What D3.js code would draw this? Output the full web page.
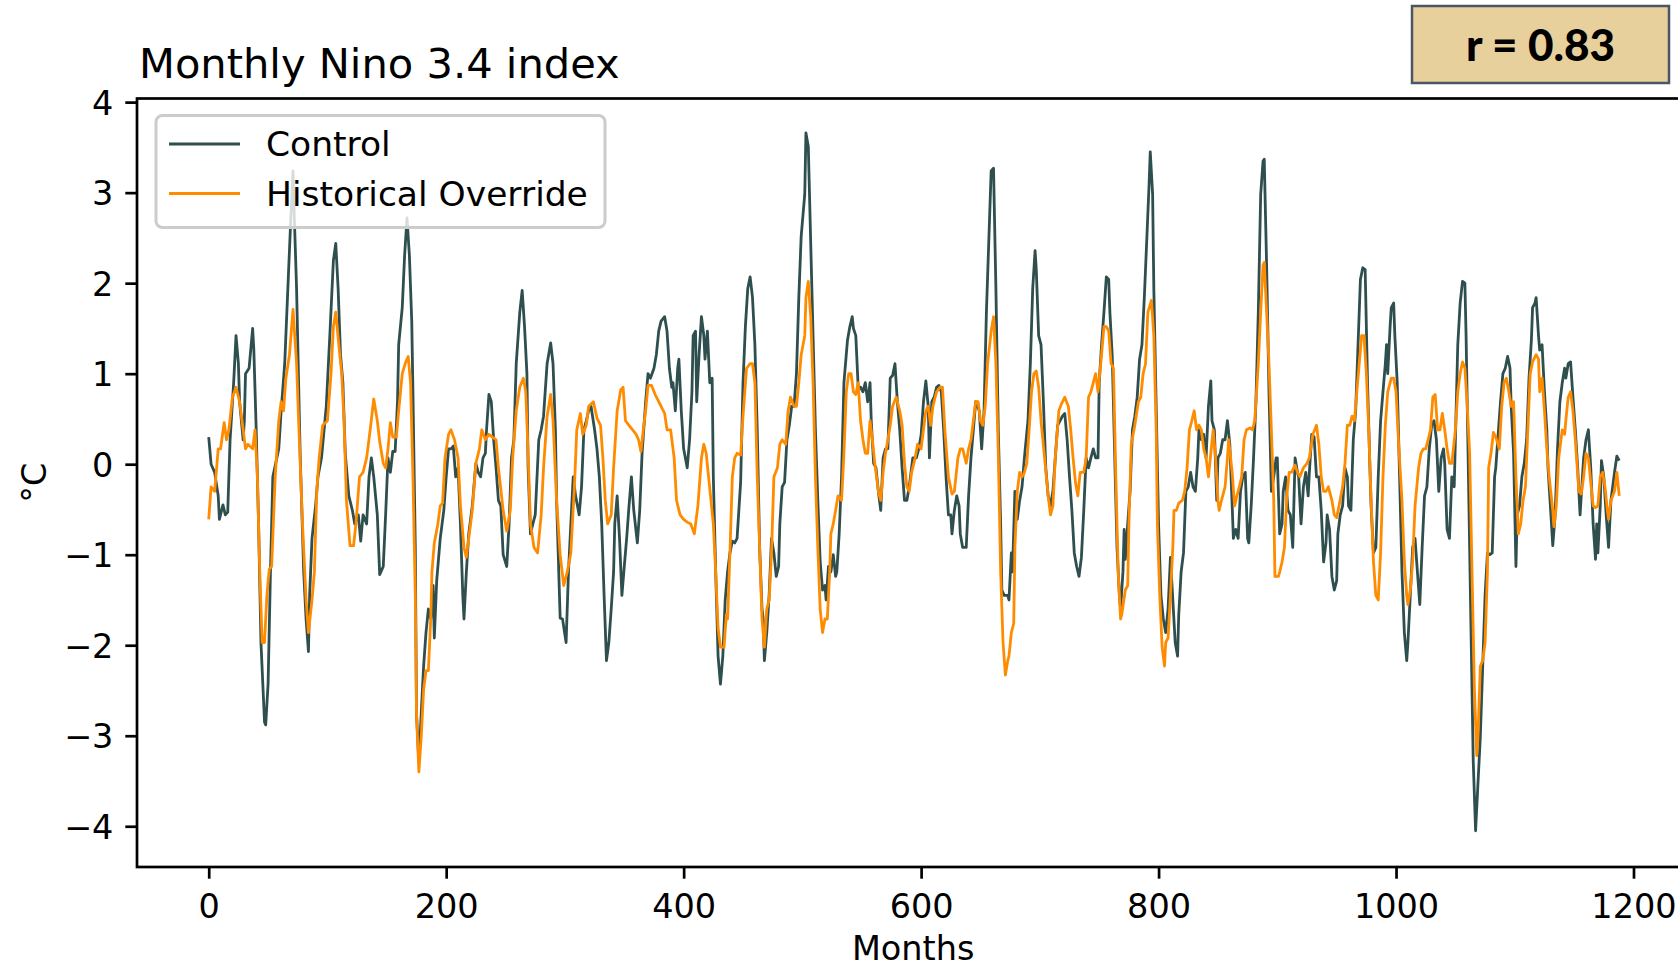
<!DOCTYPE html>
<html><head><meta charset="utf-8">
<script src="https://cdn.jsdelivr.net/npm/d3@7"></script>
<style>body{margin:0;background:#fff;} svg{display:block;}</style>
</head><body>
<svg id="chart" width="1678" height="970"></svg>
<script>
const title = "Monthly Nino 3.4 index";
const xLabel = "Months";
const yLabel = "°C";
const seriesNames = ["Control", "Historical Override"];
const seriesColors = ["#2f4f4f", "#ff8c00"];
const xTicks = [0, 200, 400, 600, 800, 1000, 1200];
const xTickLabels = ["0", "200", "400", "600", "800", "1000", "1200"];
const yTicks = [-4, -3, -2, -1, 0, 1, 2, 3, 4];
const yTickLabels = ["\u22124", "\u22123", "\u22122", "\u22121", "0", "1", "2", "3", "4"];
const corrLabel = "r = 0.83";

// [month, °C]
const control = [[0,0.30],[2,0.00],[5,-0.09],[8,-0.35],[9,-0.61],[12,-0.45],[14,-0.56],[16,-0.53],[18,0.27],[21,0.90],[23,1.42],[25,1.11],[26,0.69],[29,0.27],[30,0.48],[31,1.00],[34,1.06],[37,1.50],[38,1.26],[40,0.38],[42,-0.66],[44,-1.97],[47,-2.85],[48,-2.88],[50,-2.43],[52,-1.19],[54,-0.14],[59,0.17],[61,0.59],[64,1.11],[67,2.05],[69,2.67],[71,3.24],[72,2.77],[74,1.94],[77,0.12],[80,-1.19],[82,-1.71],[84,-2.07],[85,-1.45],[87,-0.82],[90,-0.46],[92,-0.14],[95,0.07],[99,0.64],[102,1.42],[105,2.25],[107,2.44],[109,1.94],[111,1.21],[113,0.90],[115,0.12],[118,-0.35],[121,-0.51],[123,-0.66],[126,-0.56],[128,-0.85],[130,-0.56],[133,-0.66],[135,-0.14],[137,0.07],[139,-0.14],[142,-0.56],[144,-1.22],
[147,-1.13],[149,-0.56],[151,0.07],[153,-0.09],[155,0.14],[157,0.14],[159,0.69],[160,1.32],[163,1.73],[165,2.31],[167,2.72],[169,2.31],[171,1.58],[172,0.80],[174,-0.92],[175,-2.75],[177,-3.30],[179,-2.75],[181,-2.23],[183,-1.86],[185,-1.60],[187,-1.71],[189,-1.34],[190,-1.92],[192,-1.29],[195,-0.82],[198,-0.51],[200,-0.14],[202,0.17],[204,0.17],[206,0.20],[208,-0.14],[210,-0.04],[212,-0.66],[214,-1.45],[215,-1.71],[217,-1.19],[219,-0.77],[222,-0.46],[225,0.01],[227,-0.09],[229,-0.14],[231,0.07],[233,0.12],[234,0.38],[236,0.77],[238,0.69],[240,0.27],[242,-0.04],[244,-0.40],[246,-0.46],[248,-1.00],[251,-1.13],[253,-0.66],[255,0.07],[257,0.27],[259,1.11],[262,1.68],[264,1.92],[266,1.52],[268,1.00],[269,-0.04],[271,-0.77],[273,-0.66],[275,-0.56],[278,0.27],[280,0.38],[282,0.53],[285,1.11],[288,1.34],[290,1.11],[292,0.38],[293,-0.40],[296,-1.70],
[298,-1.71],[301,-1.97],[303,-1.19],[305,-0.66],[307,-0.14],[309,-0.35],[312,-0.56],[314,-0.25],[316,0.38],[318,0.48],[320,0.59],[322,0.64],[325,0.38],[327,0.17],[329,-0.14],[331,-0.66],[333,-1.45],[335,-2.17],[337,-1.97],[339,-1.60],[341,-1.19],[342,-0.66],[344,-0.35],[346,-0.82],[348,-1.45],[350,-1.13],[352,-0.82],[354,-0.46],[356,-0.14],[358,-0.51],[361,-0.87],[363,-0.51],[365,0.12],[368,0.69],[370,1.00],[372,0.95],[375,1.06],[377,1.21],[379,1.47],[381,1.58],[384,1.63],[386,1.47],[388,1.06],[390,0.85],[391,0.90],[393,0.59],[395,1.06],[396,1.16],[398,0.59],[400,0.17],[403,-0.04],[405,0.27],[407,0.80],[408,1.42],[410,1.47],[411,0.69],[413,1.21],[415,1.63],[417,1.42],[418,1.16],[420,1.47],[422,0.90],[424,0.95],[425,-0.14],[427,-1.19],[429,-2.12],[431,-2.43],[433,-2.12],[435,-1.50],[437,-1.19],[439,-0.98],[441,-0.85],[443,-0.87],[445,-0.82],[448,-0.20],
[450,0.90],[452,1.52],[454,1.94],[456,2.07],[458,1.84],[460,1.32],[462,0.38],[464,-0.92],[466,-1.60],[467,-1.71],[468,-2.17],[470,-1.86],[472,-1.45],[474,-0.82],[476,-0.98],[478,-1.24],[480,-1.13],[481,-0.66],[483,-0.25],[485,-0.20],[487,0.27],[489,0.43],[491,0.64],[493,0.64],[495,1.00],[497,1.84],[499,2.52],[502,2.98],[503,3.66],[505,3.51],[507,2.46],[509,1.42],[511,0.38],[513,-0.40],[515,-1.08],[517,-1.39],[519,-1.34],[520,-1.50],[522,-1.13],[524,-1.19],[526,-1.00],[528,-1.24],[529,-1.19],[531,-0.77],[533,-0.14],[535,0.90],[538,1.37],[540,1.52],[542,1.63],[543,1.50],[545,1.42],[547,0.85],[549,0.85],[551,0.80],[553,0.90],[555,0.69],[557,0.90],[558,0.48],[560,0.01],[562,-0.04],[564,-0.30],[566,-0.51],[568,0.07],[570,0.17],[572,0.17],[574,0.95],[576,0.98],[578,1.11],[580,0.69],[582,0.38],[584,-0.04],[586,-0.40],[588,-0.40],[590,-0.25],[593,0.07],[596,0.07],[598,0.17],[600,0.32],
[602,0.69],[604,0.92],[606,0.64],[607,0.07],[609,0.69],[611,0.74],[613,0.85],[615,0.87],[617,0.80],[619,0.38],[621,-0.14],[623,-0.56],[625,-0.56],[626,-0.77],[628,-0.51],[630,-0.35],[632,-0.46],[633,-0.77],[635,-0.92],[638,-0.92],[640,-0.35],[642,0.07],[644,0.38],[646,0.69],[649,0.59],[651,0.17],[653,0.59],[655,1.68],[657,2.46],[659,3.24],[661,3.27],[663,1.94],[665,0.38],[667,-0.66],[668,-1.39],[670,-1.45],[673,-1.45],[674,-1.50],[676,-0.98],[677,-1.19],[679,-0.30],[681,-0.61],[683,-0.40],[685,-0.25],[687,0.07],[690,0.48],[692,1.11],[694,1.94],[696,2.36],[697,2.15],[699,1.42],[701,1.32],[703,0.69],[705,-0.04],[707,-0.35],[709,-0.46],[711,-0.30],[713,0.07],[715,0.43],[717,0.48],[719,0.53],[721,0.56],[723,0.27],[725,-0.14],[727,-0.51],[729,-0.98],[731,-1.13],[733,-1.24],[735,-1.03],[737,-0.51],[739,0.07],[741,-0.04],[743,0.07],[745,0.17],[747,0.07],[749,0.07],[750,0.90],[752,1.32],
[754,1.68],[756,2.07],[758,2.04],[759,1.68],[761,1.19],[763,0.12],[765,-0.92],[767,-1.45],[768,-1.60],[770,-1.19],[771,-0.72],[772,-1.05],[774,-0.66],[776,-0.30],[778,0.38],[780,0.53],[782,0.74],[784,1.16],[786,1.32],[788,1.84],[790,2.46],[792,3.09],[793,3.45],[795,2.98],[796,1.94],[798,0.64],[800,-0.66],[802,-1.45],[804,-1.71],[806,-1.86],[808,-1.60],[810,-1.03],[812,-1.50],[814,-1.97],[816,-2.12],[817,-1.66],[819,-1.19],[821,-0.98],[823,-0.30],[825,-0.25],[827,-0.09],[829,-0.25],[831,-0.30],[833,0.07],[834,0.38],[836,0.27],[838,0.33],[840,0.07],[842,0.64],[844,0.92],[845,0.48],[847,0.38],[849,-0.40],[850,0.07],[852,0.12],[854,0.27],[856,0.27],[858,0.48],[860,0.22],[862,-0.46],[863,-0.82],[865,-0.72],[867,-0.82],[869,-0.30],[871,-0.14],[873,-0.09],[875,-0.82],[876,-0.87],[878,-0.46],[880,0.07],[882,0.69],[884,1.68],[886,2.98],[888,3.35],[889,3.37],[891,2.20],[893,0.80],[895,-0.30],[897,-0.14],[899,0.07],[900,0.07],[902,-0.77],[904,-0.66],
[905,-0.30],[907,-0.14],[909,-0.51],[911,-0.56],[913,-0.92],[915,0.07],[917,-0.09],[918,-0.14],[920,-0.66],[922,-0.25],[924,-0.09],[926,-0.35],[927,-0.09],[929,0.33],[931,0.30],[933,-0.14],[935,-0.14],[937,-0.51],[939,-1.08],[941,-0.87],[942,-0.56],[944,-0.72],[946,-1.24],[948,-1.39],[950,-1.29],[951,-0.77],[953,-0.56],[955,-0.46],[957,-0.04],[959,-0.14],[960,-0.46],[962,-0.51],[964,0.27],[966,0.59],[968,1.32],[970,2.04],[972,2.17],[974,2.15],[976,0.90],[978,-0.04],[979,-0.46],[981,-0.98],[983,-0.92],[985,-0.14],[987,0.48],[989,0.80],[991,1.11],[992,1.32],[993,1.00],[995,1.52],[996,1.73],[998,1.78],[999,1.42],[1001,0.90],[1003,-0.14],[1005,-1.19],[1007,-1.86],[1009,-2.17],[1010,-1.97],[1012,-1.45],[1014,-0.92],[1016,-0.82],[1018,-1.19],[1020,-1.55],[1022,-0.92],[1024,-0.35],[1026,-0.25],[1028,0.17],[1030,0.43],[1032,0.48],[1034,0.27],[1036,-0.30],[1038,0.07],[1040,0.17],[1041,0.01],[1043,-0.72],[1045,-0.82],[1047,-0.14],[1049,-0.25],[1051,0.80],[1052,1.32],[1054,1.78],[1056,2.02],
[1058,2.00],[1059,1.42],[1061,-0.14],[1063,-1.71],[1065,-3.27],[1067,-4.05],[1069,-3.53],[1071,-3.01],[1073,-2.23],[1075,-1.45],[1077,-0.98],[1079,-1.00],[1081,-0.98],[1083,-0.14],[1084,-0.04],[1086,0.33],[1088,0.69],[1090,1.00],[1092,1.06],[1094,1.19],[1096,1.06],[1097,0.64],[1099,0.12],[1101,-1.13],[1102,-0.56],[1104,-0.46],[1106,-0.14],[1108,0.01],[1110,0.27],[1112,0.95],[1114,1.37],[1115,1.73],[1117,1.78],[1118,1.84],[1120,1.42],[1121,1.26],[1123,1.32],[1125,0.80],[1127,0.38],[1128,-0.04],[1130,-0.46],[1132,-0.90],[1134,-0.56],[1136,0.17],[1138,0.69],[1140,0.90],[1142,1.06],[1143,0.95],[1145,1.11],[1147,1.13],[1149,0.74],[1151,0.38],[1153,-0.04],[1155,-0.56],[1156,-0.35],[1158,0.07],[1160,0.27],[1162,0.38],[1164,-0.04],[1166,-0.66],[1168,-1.05],[1169,-0.66],[1170,-0.98],[1172,-0.46],[1173,0.04],[1175,-0.14],[1177,-0.56],[1179,-0.92],[1181,-0.40],[1184,-0.09],[1186,0.09],[1188,0.04]];

const historical = [[0,-0.61],[2,-0.25],[5,-0.30],[8,0.17],[10,0.17],[13,0.46],[15,0.27],[17,0.38],[20,0.74],[23,0.85],[26,0.69],[29,0.38],[31,0.17],[33,0.22],[37,0.17],[39,0.38],[41,-0.14],[43,-1.19],[45,-1.97],[47,-1.97],[49,-1.45],[51,-1.16],[53,-1.13],[56,-0.14],[59,0.48],[61,0.69],[63,0.59],[65,0.95],[68,1.21],[71,1.71],[74,1.11],[76,0.38],[79,-0.66],[82,-1.50],[84,-1.86],[87,-1.50],[89,-1.19],[91,-0.30],[93,0.07],[96,0.43],[100,0.48],[103,1.00],[105,1.52],[107,1.68],[110,1.26],[112,1.00],[114,0.48],[116,-0.40],[119,-0.90],[122,-0.90],[124,-0.66],[127,-0.14],[130,-0.09],[133,0.07],[136,0.38],[139,0.72],[142,0.48],[144,0.25],
[147,0.01],[149,-0.04],[151,0.17],[153,0.46],[155,0.30],[158,0.30],[160,0.59],[163,1.00],[166,1.13],[168,1.19],[170,0.90],[172,-0.14],[174,-1.45],[175,-2.75],[177,-3.40],[179,-3.01],[181,-2.49],[183,-2.28],[185,-2.28],[187,-1.71],[188,-1.19],[190,-0.87],[193,-0.66],[195,-0.46],[197,-0.43],[199,0.07],[202,0.33],[204,0.38],[207,0.27],[210,0.07],[212,-0.46],[215,-0.92],[217,-1.03],[219,-0.82],[222,-0.51],[225,0.01],[228,0.17],[230,0.38],[233,0.27],[236,0.33],[239,0.30],[242,0.27],[244,-0.04],[248,-0.51],[251,-0.74],[254,-0.51],[256,0.07],[259,0.59],[262,0.85],[265,0.95],[267,0.80],[269,0.12],[271,-0.66],[274,-0.92],[277,-0.98],[280,-0.56],[282,-0.04],[285,0.53],[288,0.77],[290,0.48],[293,-0.40],[296,-1.00],
[299,-1.34],[302,-1.19],[305,-0.98],[308,-0.25],[310,0.38],[313,0.56],[315,0.33],[318,0.43],[320,0.64],[324,0.69],[327,0.51],[330,0.43],[332,0.07],[334,-0.40],[336,-0.66],[339,-0.56],[341,-0.04],[344,0.59],[347,0.82],[349,0.85],[351,0.48],[354,0.43],[357,0.38],[360,0.33],[362,0.27],[364,0.14],[366,0.38],[368,0.59],[370,0.87],[373,0.87],[376,0.77],[379,0.69],[381,0.64],[384,0.56],[386,0.38],[389,0.38],[392,0.07],[394,-0.40],[397,-0.56],[400,-0.61],[403,-0.64],[406,-0.66],[409,-0.77],[412,-0.46],[415,0.07],[417,0.22],[419,0.12],[421,-0.14],[423,-0.40],[425,-0.66],[427,-1.19],[429,-1.81],[431,-2.02],[434,-2.02],[436,-1.66],[437,-1.71],[439,-0.98],[441,-0.14],[443,0.07],[445,0.12],[448,0.10],
[450,0.53],[453,1.06],[456,1.11],[458,1.11],[460,0.90],[462,-0.14],[464,-0.92],[466,-1.71],[468,-2.02],[470,-1.60],[472,-1.50],[474,-0.98],[476,-0.14],[479,-0.04],[481,0.22],[483,0.27],[486,0.22],[488,0.59],[490,0.74],[493,0.64],[495,0.64],[497,0.90],[499,1.21],[502,1.42],[503,1.84],[505,2.02],[507,1.63],[509,0.90],[511,-0.14],[513,-0.92],[515,-1.60],[517,-1.86],[519,-1.71],[521,-1.71],[523,-1.19],[524,-0.77],[526,-0.66],[528,-0.51],[530,-0.35],[533,-0.40],[535,0.12],[537,0.80],[539,1.00],[541,1.00],[543,0.80],[545,0.77],[547,0.90],[549,0.48],[551,0.27],[553,0.12],[555,0.12],[557,0.48],[559,0.27],[561,0.01],[564,-0.30],[566,-0.40],[568,-0.09],[570,0.12],[572,0.27],[574,0.43],[576,0.64],[579,0.74],[582,0.59],[584,0.43],[586,0.01],[588,-0.25],[590,-0.30],[592,-0.09],[595,0.07],[597,0.22],[600,0.17],
[602,0.38],[604,0.59],[606,0.64],[608,0.43],[610,0.64],[613,0.80],[616,0.85],[618,0.85],[620,0.38],[623,-0.14],[626,-0.33],[628,-0.30],[631,0.07],[633,0.17],[635,0.17],[638,0.01],[640,0.17],[642,0.27],[644,0.48],[646,0.69],[648,0.69],[650,0.48],[652,0.43],[654,0.64],[656,1.11],[659,1.47],[661,1.63],[663,1.11],[665,0.12],[667,-1.19],[669,-1.97],[671,-2.33],[673,-2.17],[674,-2.12],[676,-1.86],[678,-1.76],[679,-0.92],[681,-0.30],[683,-0.09],[685,-0.14],[687,-0.09],[689,0.01],[691,0.38],[693,0.80],[695,1.00],[697,1.03],[699,0.85],[701,0.48],[704,0.07],[707,-0.35],[709,-0.56],[711,-0.46],[713,0.07],[716,0.59],[718,0.66],[721,0.74],[724,0.64],[726,0.38],[728,0.07],[730,-0.20],[732,-0.35],[734,-0.09],[737,-0.09],[739,0.07],[741,0.74],[743,0.80],[745,0.90],[747,1.00],[749,0.80],[752,1.21],
[754,1.52],[756,1.52],[758,1.47],[760,1.11],[762,1.06],[764,-0.14],[766,-1.19],[768,-1.71],[769,-1.66],[772,-1.39],[774,-1.34],[775,-0.66],[777,0.22],[780,0.43],[783,0.69],[785,0.74],[787,1.00],[789,1.11],[791,1.68],[794,1.81],[796,1.42],[798,0.38],[799,-0.66],[801,-1.45],[803,-2.02],[805,-2.23],[806,-1.97],[808,-1.92],[810,-1.45],[812,-0.92],[813,-0.51],[815,-0.51],[817,-0.43],[820,-0.40],[822,-0.30],[824,-0.04],[826,0.38],[828,0.48],[830,0.59],[832,0.38],[834,0.43],[836,0.38],[838,0.17],[840,0.07],[842,-0.14],[844,0.12],[846,0.38],[848,0.07],[850,-0.40],[851,-0.51],[853,-0.40],[856,-0.25],[858,0.07],[859,0.27],[862,-0.09],[864,-0.46],[866,-0.35],[868,-0.25],[870,-0.14],[872,0.27],[874,0.38],[877,0.40],[879,0.38],[881,0.48],[882,0.69],[884,1.11],[886,1.68],[888,2.20],[889,2.23],[891,1.68],[893,1.11],[895,0.38],[897,-0.40],[898,-1.24],[901,-1.24],[902,-1.19],[904,-1.08],
[906,-0.92],[908,-0.35],[910,-0.09],[912,-0.09],[915,-0.01],[917,-0.09],[919,-0.14],[922,-0.04],[925,0.01],[927,0.07],[930,0.33],[933,0.43],[935,0.22],[937,-0.14],[939,-0.30],[941,-0.30],[943,-0.25],[946,-0.40],[948,-0.56],[950,-0.59],[952,-0.46],[955,-0.25],[957,0.01],[959,0.43],[961,0.43],[963,0.53],[965,0.48],[967,0.80],[969,1.11],[971,1.42],[973,1.42],[975,1.00],[977,0.38],[979,-0.40],[981,-1.08],[983,-1.45],[985,-1.50],[987,-0.98],[989,-0.14],[991,0.43],[993,0.80],[996,0.95],[998,0.95],[1000,0.80],[1002,0.27],[1005,-0.40],[1007,-1.08],[1009,-1.45],[1010,-1.55],[1012,-1.39],[1014,-1.08],[1016,-0.46],[1019,-0.04],[1021,0.12],[1023,0.17],[1025,0.17],[1027,0.27],[1029,0.38],[1031,0.74],[1033,0.77],[1035,0.38],[1037,0.38],[1039,0.56],[1041,0.38],[1043,0.17],[1045,0.01],[1047,0.01],[1050,0.38],[1052,0.80],[1054,1.00],[1056,1.13],
[1058,1.06],[1060,0.64],[1062,0.12],[1064,-1.19],[1066,-2.49],[1068,-3.22],[1069,-3.01],[1071,-2.23],[1073,-2.17],[1075,-1.97],[1077,-1.19],[1078,-0.04],[1080,0.12],[1082,0.35],[1084,0.30],[1087,0.17],[1089,0.64],[1091,0.90],[1093,0.95],[1095,0.80],[1097,0.64],[1099,0.69],[1101,-0.14],[1103,-0.77],[1105,-0.66],[1107,-0.40],[1109,-0.25],[1111,0.38],[1113,1.00],[1115,1.13],[1118,1.21],[1120,1.16],[1121,0.80],[1123,0.95],[1125,0.59],[1127,0.17],[1129,-0.14],[1132,-0.51],[1133,-0.69],[1135,-0.46],[1137,0.07],[1140,0.38],[1142,0.33],[1143,0.48],[1145,0.74],[1147,0.80],[1149,0.59],[1151,0.27],[1154,-0.30],[1156,-0.33],[1158,-0.14],[1160,0.12],[1162,0.07],[1164,-0.20],[1166,-0.46],[1168,-0.48],[1170,-0.46],[1172,-0.14],[1174,-0.09],[1176,-0.25],[1178,-0.51],[1179,-0.61],[1181,-0.40],[1184,-0.30],[1186,-0.09],[1188,-0.35]];

const series = [control, historical];

// ---------- drawing ----------
const svg = d3.select("#chart");
const FONT = "'DejaVu Sans', sans-serif";
const TICK_FS = 33.5;
const x = d3.scaleLinear().domain([-60.4, 1247]).range([137, 1689.3]);
const y = d3.scaleLinear().domain([-4.45, 4.04]).range([867, 98.5]);
const [x0, x1] = x.range();
const [yb, yt] = y.range();

svg.append("rect").attr("width", 1678).attr("height", 970).attr("fill", "#fff");

svg.append("defs").append("clipPath").attr("id", "plotClip")
  .append("rect").attr("x", x0).attr("y", yt).attr("width", x1 - x0).attr("height", yb - yt);

const line = d3.line().x(d => x(d[0])).y(d => y(d[1]));
const plot = svg.append("g").attr("clip-path", "url(#plotClip)");
series.forEach((s, i) => {
  plot.append("path").datum(s)
    .attr("d", line)
    .attr("fill", "none")
    .attr("stroke", seriesColors[i])
    .attr("stroke-width", 2.8)
    .attr("stroke-linejoin", "round");
});

// axes
const xAxis = d3.axisBottom(x).tickValues(xTicks).tickFormat((d, i) => xTickLabels[i])
  .tickSizeInner(11.7).tickSizeOuter(0).tickPadding(13);
const yAxis = d3.axisLeft(y).tickValues(yTicks).tickFormat((d, i) => yTickLabels[i])
  .tickSizeInner(11.7).tickSizeOuter(0).tickPadding(12);

const gx = svg.append("g").attr("transform", `translate(0,${yb})`).call(xAxis);
const gy = svg.append("g").attr("transform", `translate(${x0},0)`).call(yAxis);
[gx, gy].forEach(g => {
  g.select(".domain").remove();
  g.selectAll(".tick line").attr("stroke", "#000").attr("stroke-width", 2.7);
  g.selectAll(".tick text").attr("fill", "#000")
    .style("font-family", FONT).style("font-size", TICK_FS + "px");
});
gx.selectAll(".tick text").attr("dy", "0.78em");
gy.selectAll(".tick text").attr("dy", "0.36em");

// spines
svg.append("rect").attr("x", x0).attr("y", yt).attr("width", x1 - x0).attr("height", yb - yt)
  .attr("fill", "none").attr("stroke", "#000").attr("stroke-width", 2.7);

// axis labels
svg.append("text").attr("x", (x0 + x1) / 2).attr("y", 960)
  .attr("text-anchor", "middle").style("font-family", FONT).style("font-size", TICK_FS + "px")
  .text(xLabel);
svg.append("text").attr("transform", `translate(46,${(yt + yb) / 2}) rotate(-90)`)
  .attr("text-anchor", "middle").style("font-family", FONT).style("font-size", TICK_FS + "px")
  .text(yLabel);

// title
svg.append("text").attr("x", 139).attr("y", 77.5)
  .style("font-family", FONT).style("font-size", "41.6px").text(title);

// legend
const lg = svg.append("g");
lg.append("rect").attr("x", 156).attr("y", 115.5).attr("width", 449).attr("height", 112)
  .attr("rx", 6.5).attr("ry", 6.5)
  .attr("fill", "#fff").attr("fill-opacity", 0.8)
  .attr("stroke", "#cccccc").attr("stroke-width", 3);
seriesNames.forEach((name, i) => {
  const cy = 144 + i * 49.5;
  lg.append("line").attr("x1", 169).attr("x2", 240).attr("y1", cy).attr("y2", cy)
    .attr("stroke", seriesColors[i]).attr("stroke-width", 2.8);
  lg.append("text").attr("x", 266).attr("y", cy + 12)
    .style("font-family", FONT).style("font-size", "34.5px").attr("fill", "#000").text(name);
});

// correlation box
const rb = svg.append("g");
rb.append("rect").attr("x", 1412).attr("y", 6).attr("width", 257).attr("height", 77)
  .attr("fill", "#e8d09c").attr("stroke", "#4a5565").attr("stroke-width", 2.5);
rb.append("text").attr("x", 1540.5).attr("y", 60.5).attr("text-anchor", "middle")
  .style("font-family", "Lato, 'Open Sans', sans-serif").style("font-weight", "900")
  .style("font-size", "44px").attr("fill", "#000").text(corrLabel);
</script>
</body></html>
